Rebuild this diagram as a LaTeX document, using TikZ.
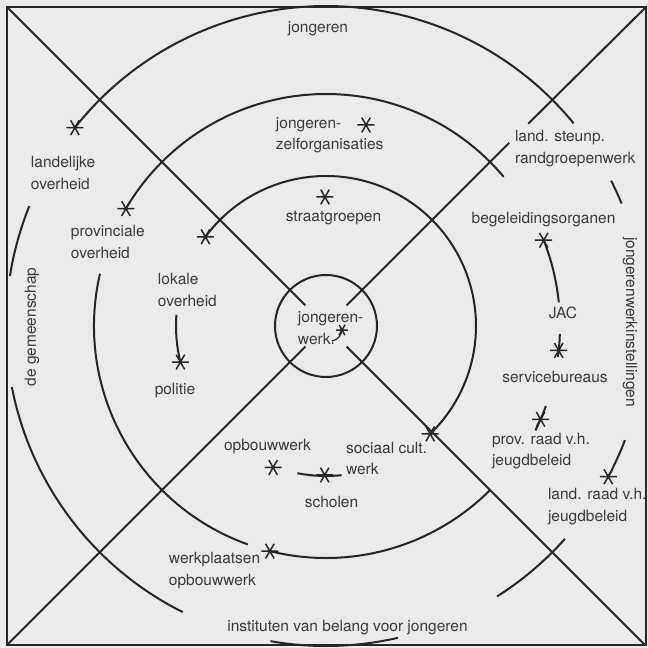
\documentclass[tikz,border=0pt]{standalone}
\usepackage{fontspec}
\setmainfont{TeX Gyre Heros}
\definecolor{lijn}{HTML}{262626}
\definecolor{tekst}{HTML}{3A3A3A}
\definecolor{papier}{HTML}{EBEBEB}
\tikzset{
  ster/.pic={\draw[line width=1.5pt] (-8.5pt,0)--(8.5pt,0) (60:8.5pt)--(240:8.5pt) (120:8.5pt)--(300:8.5pt);},
  naam/.style={text=tekst,font=\fontsize{15.5}{21.5}\selectfont,inner sep=0pt,align=left},
}
\begin{document}
\begin{tikzpicture}[x=1pt,y=1pt,line width=2pt,color=lijn]
\useasboundingbox (-326,-322) rectangle (322,326);
\fill[papier] (-326,-322) rectangle (322,326);
% kader en diagonalen
\draw[line width=2.6pt] (-319,-319) rectangle (320,319);
\draw (135:29)--(-319,319);
\draw (-45:29)--(319,-319);
\draw (225:29)--(-319,-319);
\draw (45:29)--(45:259);
\draw (45:286)--(320,319);
\draw (0,0) circle[radius=51];
% binnenste ring
\draw (143.5:150) arc[start angle=143.5,end angle=-46,radius=150];
\draw (175.7:150) arc[start angle=175.7,end angle=193.9,radius=150];
\draw (-101:150) arc[start angle=-101,end angle=-84,radius=150];
% middelste ring
\draw (149.6:232) arc[start angle=149.6,end angle=40,radius=232];
\draw (5.8:234) arc[start angle=5.8,end angle=21.5,radius=234];
\draw (-2:234) arc[start angle=-2,end angle=-7.6,radius=234];
\draw (-20:234) arc[start angle=-20,end angle=-26.5,radius=234];
\draw (-45:232) arc[start angle=-45,end angle=-104,radius=232];
\draw (167:232) arc[start angle=167,end angle=250.3,radius=232];
% buitenste ring
\draw (141.7:320) arc[start angle=141.7,end angle=39.3,radius=320];
\draw (27:320) arc[start angle=27,end angle=22.5,radius=320];
\draw (-20.9:320) arc[start angle=-20.9,end angle=-28.1,radius=320];
\draw (-41.7:320) arc[start angle=-41.7,end angle=-57.7,radius=320];
\draw (-77:320) arc[start angle=-77,end angle=-100,radius=320];
\draw (158:320) arc[start angle=158,end angle=171,radius=320];
\draw (191:320) arc[start angle=191,end angle=243.4,radius=320];
% sterren
\foreach \hoek/\straal in {141.7/320,-28.1/320,149.6/232,21.5/234,-6/234,-23.5/234,-104/232,143.5/150,-46/150,193.9/150,-110.5/151,-90.5/149}
  \pic at (\hoek:\straal) {ster};
\pic at (40,201) {ster};
\pic at (-1,129) {ster};
\coordinate (jwster) at (16,-4);
\pic[scale=0.7] at (jwster) {ster};
% teksten
\node[naam] (jongeren) at (-8,297) {jongeren};
\node[naam,anchor=west] (zelforg) at (-51,191) {jongeren-\\zelforganisaties};
\node[naam] (straat) at (7.5,108) {straatgroepen};
\node[naam,anchor=west] (landelijk) at (-296,153) {landelijke\\overheid};
\node[naam,anchor=west] (provinciaal) at (-256,84) {provinciale\\overheid};
\node[naam,anchor=west] (lokaal) at (-169,36) {lokale\\overheid};
\node[naam] (politie) at (-151,-65) {politie};
\node[naam,anchor=west] (jw) at (-29,-2) {jongeren-\\werk.};
\coordinate (jwstart) at (6,-15);
\draw[line width=1.2pt] (jwstart) to[bend right=35] (jwster);
\node[naam,anchor=west] (steunp) at (188,177.5) {land. steunp.\\randgroepenwerk};
\node[naam] (begeleiding) at (217.5,106) {begeleidingsorganen};
\node[naam] (jac) at (237,13) {JAC};
\node[naam] (service) at (229,-51) {servicebureaus};
\node[naam,anchor=west] (provraad) at (165,-125) {prov. raad v.h.\\jeugdbeleid};
\node[naam,anchor=west] (landraad) at (221,-180.5) {land. raad v.h.\\jeugdbeleid};
\node[naam,rotate=-90] (instellingen) at (304,4) {jongerenwerkinstellingen};
\node[naam,rotate=90] (gemeenschap) at (-294,-1) {de gemeenschap};
\node[naam] (opbouw) at (-58.5,-121) {opbouwwerk};
\node[naam,anchor=west] (sociaal) at (19,-132.5) {sociaal cult.\\werk};
\node[naam] (scholen) at (5.5,-176) {scholen};
\node[naam,anchor=west] (werkplaats) at (-158,-244.5) {werkplaatsen\\opbouwwerk};
\node[naam] (instituten) at (21.5,-302) {instituten van belang voor jongeren};
\end{tikzpicture}
\end{document}
